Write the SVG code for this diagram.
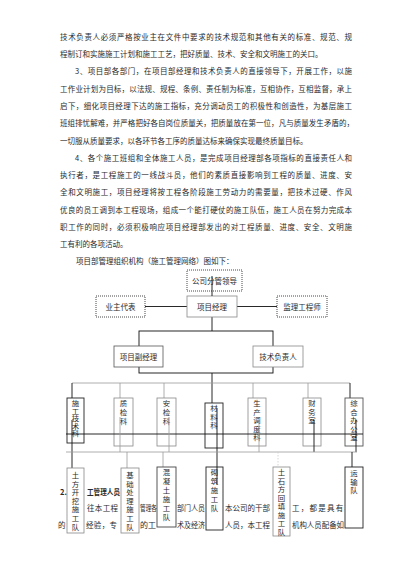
<svg xmlns="http://www.w3.org/2000/svg" width="400" height="566" viewBox="0 0 400 566">
<style>
text{font-family:"Noto Sans CJK SC","Noto Sans",sans-serif;fill:#2a2a2a}
.p{font-size:7.5px}
.b{font-size:7.5px;text-anchor:middle}
.v{font-size:7.4px;writing-mode:vertical-rl;text-orientation:upright}
.box{fill:#fff;stroke:#888;stroke-width:0.8}
.dk{fill:#fff;stroke:#222;stroke-width:0.9}
.dot{fill:#fff;stroke:#333;stroke-width:0.9;stroke-dasharray:1 1}
.ln{stroke:#111;stroke-width:0.9;fill:none}
.gl{stroke:#999;stroke-width:0.8;fill:none}
</style>
<rect width="400" height="566" fill="#fff"/>
<g id="body-text">
<text x="60" y="40" class="p" textLength="292" lengthAdjust="spacing">技术负责人必须严格按业主在文件中要求的技术规范和其他有关的标准、规范、规</text>
<text x="60" y="57" class="p">程制订和实施施工计划和施工工艺，把好质量、技术、安全和文明施工的关口。</text>
<text x="75" y="74" class="p" textLength="277" lengthAdjust="spacing">3、项目部各部门，在项目部经理和技术负责人的直接领导下，开展工作，以施</text>
<text x="60" y="92" class="p" textLength="292" lengthAdjust="spacing">工作业计划为目标，以法规、规程、条例、责任制为标准，互相协作，互相监督，承上</text>
<text x="60" y="109" class="p" textLength="292" lengthAdjust="spacing">启下，细化项目经理下达的施工指标，充分调动员工的积极性和创造性，为基层施工</text>
<text x="60" y="126" class="p" textLength="294" lengthAdjust="spacing">班组排忧解难，并严格把好各自岗位质量关，把质量放在第一位，凡与质量发生矛盾的，</text>
<text x="60" y="144" class="p">一切服从质量要求，以各环节各工序的质量达标来确保实现最终质量目标。</text>
<text x="75" y="161" class="p" textLength="277" lengthAdjust="spacing">4、各个施工班组和全体施工人员，是完成项目经理部各项指标的直接责任人和</text>
<text x="60" y="178" class="p" textLength="292" lengthAdjust="spacing">执行者，是工程施工的一线战斗员，他们的素质直接影响到工程的质量、进度、安</text>
<text x="60" y="195" class="p" textLength="292" lengthAdjust="spacing">全和文明施工，项目经理将按工程各阶段施工劳动力的需要量，把技术过硬、作风</text>
<text x="60" y="213" class="p" textLength="292" lengthAdjust="spacing">优良的员工调到本工程现场，组成一个能打硬仗的施工队伍，施工人员在努力完成本</text>
<text x="60" y="230" class="p" textLength="292" lengthAdjust="spacing">职工作的同时，必须积极响应项目经理部发出的对工程质量、进度、安全、文明施</text>
<text x="60" y="247" class="p">工有利的各项活动。</text>
<text x="76" y="264" class="p">项目部管理组织机构（施工管理网络）图如下：</text>
<text x="60" y="495" class="p" font-weight="bold">2.</text>
<text x="87" y="495" class="p" font-weight="bold" textLength="33" lengthAdjust="spacingAndGlyphs">工管理人员</text>
<text x="87" y="511" class="p" textLength="31" lengthAdjust="spacing">往本工程</text>
<text x="140" y="511" class="p" textLength="17" lengthAdjust="spacingAndGlyphs">管理各</text>
<text x="177" y="511" class="p" textLength="28" lengthAdjust="spacingAndGlyphs">部门人员</text>
<text x="225" y="511" class="p" textLength="45" lengthAdjust="spacing">本公司的干部</text>
<text x="292" y="511" class="p" textLength="60" lengthAdjust="spacing">工，都是具有丰</text>
<text x="58" y="528" class="p">的</text>
<text x="86" y="528" class="p" textLength="31" lengthAdjust="spacing">经验，专</text>
<text x="140" y="528" class="p" textLength="16" lengthAdjust="spacingAndGlyphs">的工</text>
<text x="177" y="528" class="p" textLength="28" lengthAdjust="spacingAndGlyphs">术及经济</text>
<text x="225" y="528" class="p" textLength="45" lengthAdjust="spacing">人员，本工程</text>
<text x="292" y="528" class="p" textLength="52" lengthAdjust="spacingAndGlyphs">机构人员配备如</text>
</g>
<g id="connectors">
<line class="ln" x1="145" y1="306.5" x2="187" y2="306.5"/>
<line class="ln" x1="237" y1="306.5" x2="277" y2="306.5"/>
<line class="ln" x1="212" y1="317" x2="212" y2="331"/>
<rect class="ln" x="139" y="331" width="134" height="42"/>
<line class="ln" x1="212" y1="373" x2="212" y2="403"/>
<line class="gl" x1="72" y1="383" x2="350" y2="383"/>
<line class="ln" x1="72" y1="383" x2="72" y2="398"/>
<line class="gl" x1="120" y1="383" x2="120" y2="398"/>
<line class="gl" x1="164" y1="383" x2="164" y2="398"/>
<line class="gl" x1="253" y1="383" x2="253" y2="398"/>
<line class="gl" x1="308" y1="383" x2="308" y2="398"/>
<line class="ln" x1="350" y1="383" x2="350" y2="398"/>
</g>
<g id="n-gsfgld"><rect class="dot" x="187" y="270" width="55" height="21"/><text class="b" x="214.5" y="283.5">公司分管领导</text></g>
<g id="n-yzdb"><rect class="dot" x="96" y="296" width="49" height="21"/><text class="b" x="120.5" y="309.5">业主代表</text></g>
<g id="n-xmjl"><rect class="box" x="187" y="296" width="50" height="21"/><text class="b" x="212" y="309.5">项目经理</text></g>
<g id="n-jlgcs"><rect class="dot" x="277" y="296" width="50" height="21"/><text class="b" x="302" y="309.5">监理工程师</text></g>
<line class="ln" x1="212" y1="276" x2="212" y2="296"/>
<g id="n-xmfjl"><rect class="box" x="114" y="346" width="49" height="21" style="stroke:#555"/><text class="b" x="138.5" y="359.5">项目副经理</text></g>
<g id="n-jsfzr"><rect class="box" x="253" y="346" width="50" height="21"/><text class="b" x="278" y="359.5">技术负责人</text></g>
<g id="n-sgjsk"><rect class="dk" x="67" y="398" width="17" height="45"/><text class="v" x="75.5" y="399.5" style="letter-spacing:0.2px">施工技术科</text></g>
<g id="n-zjk"><rect class="box" x="114" y="398" width="19" height="48"/><text class="v" x="123.5" y="399.5" style="letter-spacing:1.6px">质检科</text></g>
<g id="n-ajk"><rect class="box" x="157" y="398" width="19" height="48"/><text class="v" x="166.5" y="399.5" style="letter-spacing:1.6px">安检科</text></g>
<g id="n-clk"><rect class="dk" x="205" y="403" width="18" height="45"/><text class="v" x="214" y="404.5" style="letter-spacing:1.1px">材料科</text></g>
<g id="n-scddk"><rect class="box" x="248" y="398" width="18" height="48"/><text class="v" x="257" y="399.5" style="letter-spacing:1.1px">生产调度科</text></g>
<g id="n-cws"><rect class="box" x="303" y="398" width="18" height="48"/><text class="v" x="312" y="399.5" style="letter-spacing:1.1px">财务室</text></g>
<g id="n-zhbgs"><rect class="dk" x="345" y="398" width="18" height="48" style="stroke:#555"/><text class="v" x="354" y="399.5" style="letter-spacing:1.1px">综合办公室</text></g>
<g id="connectors-lower">
<line class="ln" x1="66" y1="434" x2="363" y2="434"/>
<line class="ln" x1="72" y1="420" x2="72" y2="468"/>
<line class="gl" x1="120" y1="417" x2="120" y2="452"/>
<line class="gl" x1="169" y1="417" x2="169" y2="452"/>
<line class="ln" x1="217" y1="408" x2="217" y2="484"/>
<line class="gl" x1="259" y1="420" x2="259" y2="452"/>
<line class="ln" x1="314" y1="420" x2="314" y2="452"/>
<line class="ln" x1="356" y1="420" x2="356" y2="452"/>
<line class="gl" x1="66" y1="452" x2="357" y2="452"/>
<line class="gl" x1="127" y1="452" x2="127" y2="468"/>
<line class="gl" x1="163" y1="452" x2="163" y2="467"/>
<line class="gl" x1="278" y1="452" x2="278" y2="467" stroke-dasharray="1.5 1.5" style="stroke:#ccc"/>
<line class="ln" x1="352" y1="452" x2="352" y2="467"/>
</g>
<g id="n-tfwj"><rect class="box" x="67" y="468" width="17" height="65"/><text class="v" x="75.5" y="471.5" style="letter-spacing:1.2px">土方开挖施工队</text></g>
<g id="n-jccl"><rect class="box" x="121" y="468" width="18" height="65"/><text class="v" x="130" y="471.5" style="letter-spacing:1.2px">基础处理施工队</text></g>
<g id="n-hnt"><rect class="dk" x="157" y="467" width="19" height="60" style="stroke:#444"/><text class="v" x="166.5" y="468.5" style="letter-spacing:1.6px">混凝土施工队</text></g>
<g id="n-qz"><rect class="dk" x="206" y="467" width="17" height="63"/><text class="v" x="214.5" y="468.5" style="letter-spacing:1.6px">砌筑施工队</text></g>
<line class="ln" x1="217" y1="467" x2="217" y2="484"/>
<g id="n-tsfht"><rect class="box" x="273" y="467" width="17" height="69"/><text class="v" x="281.5" y="468.5" style="letter-spacing:1.1px">土石方回填施工队</text></g>
<g id="n-ysd"><rect class="dk" x="345" y="467" width="18" height="61"/><text class="v" x="354" y="469.5" style="letter-spacing:1.1px">运输队</text></g>
</svg>
